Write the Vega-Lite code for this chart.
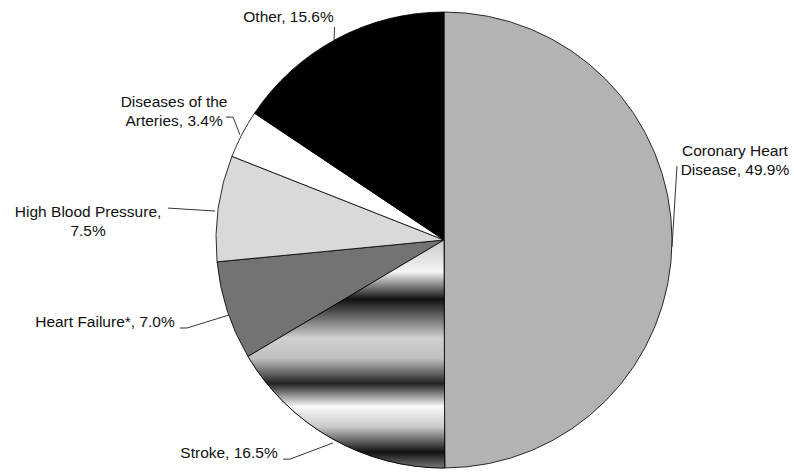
{
  "$schema": "https://vega.github.io/schema/vega-lite/v6.json",
  "width": 700,
  "height": 480,
  "autosize": "none",
  "padding": {"left": 94, "top": 0, "right": 0, "bottom": 0},
  "background": "white",
  "config": {"view": {"stroke": null}, "font": "Liberation Sans"},
  "datasets": {
    "slices": [
      {"cause": "Coronary Heart Disease", "pct": 49.9, "rank": 1},
      {"cause": "Stroke", "pct": 16.5, "rank": 2},
      {"cause": "Heart Failure*", "pct": 7.0, "rank": 3},
      {"cause": "High Blood Pressure", "pct": 7.5, "rank": 4},
      {"cause": "Diseases of the Arteries", "pct": 3.4, "rank": 5},
      {"cause": "Other", "pct": 15.6, "rank": 6}
    ],
    "labels": [
      {"label": "Coronary Heart\nDisease, 49.9%", "x": 1.276, "y": 0.39},
      {"label": "Other, 15.6%", "x": -0.682, "y": 0.978},
      {"label": "Diseases of the\nArteries, 3.4%", "x": -1.184, "y": 0.605},
      {"label": "High Blood Pressure,\n7.5%", "x": -1.561, "y": 0.123},
      {"label": "Heart Failure*, 7.0%", "x": -1.487, "y": -0.36},
      {"label": "Stroke, 16.5%", "x": -0.943, "y": -0.934}
    ],
    "leaders": [
      {"x1": 1.022, "y1": 0.325, "x2": 1.0, "y2": -0.031},
      {"x1": -0.48, "y1": 0.934, "x2": -0.482, "y2": 0.877},
      {"x1": -0.956, "y1": 0.539, "x2": -0.925, "y2": 0.539},
      {"x1": -0.925, "y1": 0.539, "x2": -0.895, "y2": 0.461},
      {"x1": -1.211, "y1": 0.14, "x2": -1.004, "y2": 0.127},
      {"x1": -1.158, "y1": -0.386, "x2": -1.127, "y2": -0.386},
      {"x1": -1.127, "y1": -0.386, "x2": -0.943, "y2": -0.329},
      {"x1": -0.706, "y1": -0.961, "x2": -0.675, "y2": -0.961},
      {"x1": -0.675, "y1": -0.961, "x2": -0.487, "y2": -0.89}
    ]
  },
  "layer": [
    {
      "data": {"name": "slices"},
      "mark": {"type": "arc", "radius": 228, "stroke": "#000", "strokeWidth": 0.8},
      "encoding": {
        "theta": {"field": "pct", "type": "quantitative", "stack": true},
        "order": {"field": "rank", "type": "quantitative"},
        "color": {
          "field": "cause",
          "type": "nominal",
          "legend": null,
          "scale": {
            "domain": ["Coronary Heart Disease", "Stroke", "Heart Failure*", "High Blood Pressure", "Diseases of the Arteries", "Other"],
            "range": ["#b3b3b3", "#c8c8c8", "#737373", "#d9d9d9", "#ffffff", "#000000"]
          }
        }
      }
    },
    {
      "data": {"name": "slices"},
      "mark": {
        "type": "arc",
        "radius": 228,
        "stroke": "#000",
        "strokeWidth": 0.8,
        "fill": {
          "gradient": "linear",
          "x1": 0, "y1": 0, "x2": 0, "y2": 1,
          "stops": [
            {"offset": 0.0, "color": "#c8c8c8"},
            {"offset": 0.14, "color": "#f5f5f5"},
            {"offset": 0.26, "color": "#111111"},
            {"offset": 0.43, "color": "#d0d0d0"},
            {"offset": 0.52, "color": "#c0c0c0"},
            {"offset": 0.63, "color": "#222222"},
            {"offset": 0.73, "color": "#fafafa"},
            {"offset": 0.82, "color": "#c8c8c8"},
            {"offset": 0.93, "color": "#111111"},
            {"offset": 1.0, "color": "#777777"}
          ]
        }
      },
      "encoding": {
        "theta": {"field": "pct", "type": "quantitative", "stack": true},
        "order": {"field": "rank", "type": "quantitative"},
        "opacity": {"condition": {"test": "datum.cause === 'Stroke'", "value": 1}, "value": 0}
      }
    },
    {
      "data": {"name": "leaders"},
      "mark": {"type": "rule", "stroke": "#333333", "strokeWidth": 1},
      "encoding": {
        "x": {"field": "x1", "type": "quantitative", "axis": null, "scale": {"domain": [-1.5351, 1.5351], "nice": false, "zero": false}},
        "y": {"field": "y1", "type": "quantitative", "axis": null, "scale": {"domain": [-1.0526, 1.0526], "nice": false, "zero": false}},
        "x2": {"field": "x2"},
        "y2": {"field": "y2"}
      }
    },
    {
      "data": {"name": "labels"},
      "mark": {"type": "text", "fontSize": 15.5, "lineBreak": "\n", "lineHeight": 19, "align": "center", "baseline": "middle", "color": "#111111"},
      "encoding": {
        "x": {"field": "x", "type": "quantitative", "axis": null, "scale": {"domain": [-1.5351, 1.5351], "nice": false, "zero": false}},
        "y": {"field": "y", "type": "quantitative", "axis": null, "scale": {"domain": [-1.0526, 1.0526], "nice": false, "zero": false}},
        "text": {"field": "label"}
      }
    }
  ]
}
